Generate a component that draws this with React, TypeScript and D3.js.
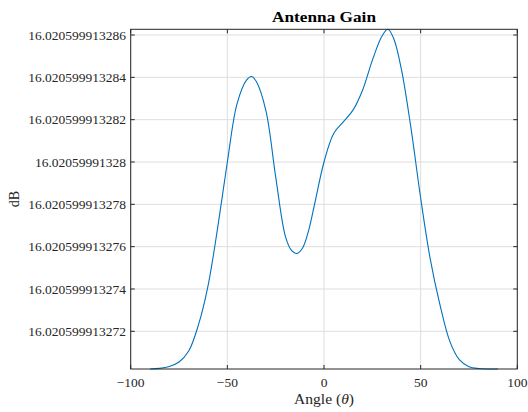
import React from "react";
import * as d3 from "d3";

// Gain is stored as offset from 16.020599913 dB, in units of 1e-12 dB
const angles = [-90, -85, -80, -75, -70, -65, -60, -55, -50, -45, -40, -37.5, -35, -30, -25, -20, -17, -14, -11, -8, -5, 0, 5, 10, 15, 20, 25, 30, 33, 36, 40, 45, 50, 55, 60, 65, 70, 75, 80, 85, 90];
const gainOffset = [270.22, 270.25, 270.34, 270.55, 271.07, 272.29, 274.15, 276.9, 280.0, 282.75, 283.88, 284.04, 283.8, 282.4, 279.3, 276.5, 275.85, 275.68, 275.95, 276.75, 277.95, 280.0, 281.35, 281.9, 282.45, 283.4, 284.8, 285.95, 286.27, 285.85, 284.4, 281.6, 278.3, 275.4, 273.25, 271.55, 270.66, 270.33, 270.24, 270.22, 270.22];
const yTicks = [272, 274, 276, 278, 280, 282, 284, 286];
const yTickLabels = ["16.020599913272", "16.020599913274", "16.020599913276", "16.020599913278", "16.02059991328", "16.020599913282", "16.020599913284", "16.020599913286"];
const xTicks = [-100, -50, 0, 50, 100];
const xTickLabels = ["\u2212100", "\u221250", "0", "50", "100"];

export default function App() {
  const W = 528, H = 412;
  const left = 130.7, right = 517.3, top = 29.3, bottom = 369;
  const x = d3.scaleLinear().domain([-100, 100]).range([left, right]);
  const y = d3.scaleLinear().domain([270.22, 286.27]).range([bottom, top]);
  const pts: [number, number][] = angles.map((a, i) => [a, gainOffset[i]]);
  const line = d3.line<[number, number]>()
    .x((d) => x(d[0]))
    .y((d) => y(d[1]))
    .curve(d3.curveCatmullRom.alpha(0.5));
  const font = "'Liberation Serif', 'DejaVu Serif', serif";
  const axisColor = "#262626";
  const gridColor = "#dedede";
  const tickLen = 4;
  const fs = 13.5;
  const labelWidth = (s: string) => s.replace(/\./g, "").length * fs * 0.5 + (s.split(".").length - 1) * fs * 0.25;
  return (
    <svg width={W} height={H} style={{ position: "absolute", left: 0, top: 0, background: "#fff" }} fontFamily={font}>
      <rect x={0} y={0} width={W} height={H} fill="#fff" />
      {xTicks.map((t) => (
        <line key={"gx" + t} x1={x(t)} x2={x(t)} y1={top} y2={bottom} stroke={gridColor} strokeWidth={1} />
      ))}
      {yTicks.map((t) => (
        <line key={"gy" + t} x1={left} x2={right} y1={y(t)} y2={y(t)} stroke={gridColor} strokeWidth={1} />
      ))}
      <path d={line(pts) || ""} fill="none" stroke="#0072BD" strokeWidth={1.1} />
      <rect x={left} y={top} width={right - left} height={bottom - top} fill="none" stroke={axisColor} strokeWidth={1} />
      {xTicks.map((t) => (
        <g key={"tx" + t}>
          <line x1={x(t)} x2={x(t)} y1={bottom} y2={bottom - tickLen} stroke={axisColor} />
          <line x1={x(t)} x2={x(t)} y1={top} y2={top + tickLen} stroke={axisColor} />
        </g>
      ))}
      {yTicks.map((t) => (
        <g key={"ty" + t}>
          <line x1={left} x2={left + tickLen} y1={y(t)} y2={y(t)} stroke={axisColor} />
          <line x1={right} x2={right - tickLen} y1={y(t)} y2={y(t)} stroke={axisColor} />
        </g>
      ))}
      {xTicks.map((t, i) => (
        <text key={"lx" + t} x={x(t)} y={386.5} textAnchor="middle" fontSize={fs} fill={axisColor}>
          {xTickLabels[i]}
        </text>
      ))}
      {yTicks.map((t, i) => (
        <text key={"ly" + t} x={126} y={y(t) + 4.7} textAnchor="end" fontSize={fs} fill={axisColor}
          textLength={labelWidth(yTickLabels[i])} lengthAdjust="spacingAndGlyphs">
          {yTickLabels[i]}
        </text>
      ))}
      <text x={(left + right) / 2} y={21.5} textAnchor="middle" fontSize={14} fontWeight="bold" fill="#000" textLength={104} lengthAdjust="spacingAndGlyphs">
        Antenna Gain
      </text>
      <text x={(left + right) / 2} y={404} textAnchor="middle" fontSize={14} fill={axisColor} textLength={60} lengthAdjust="spacingAndGlyphs">
        Angle (<tspan fontStyle="italic">θ</tspan>)
      </text>
      <text transform={`translate(19, ${(top + bottom) / 2}) rotate(-90)`} textAnchor="middle" fontSize={14} fill={axisColor}>
        dB
      </text>
    </svg>
  );
}
